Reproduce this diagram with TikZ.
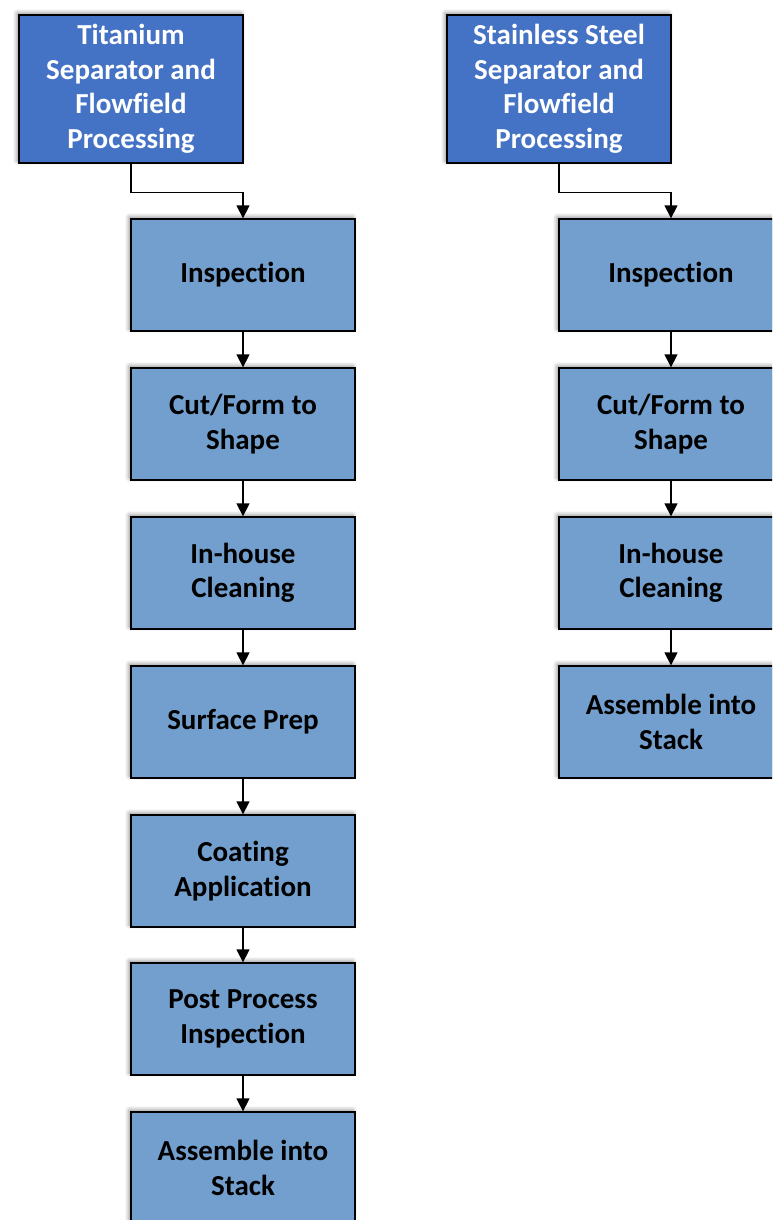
\documentclass[tikz,border=0pt]{standalone}
\usepackage{fontspec}
\setmainfont{Carlito}[Ligatures={NoCommon,NoRare,NoContextual}]
\usetikzlibrary{arrows.meta,shadows.blur}
\definecolor{topblue}{HTML}{4472C4}
\definecolor{stepblue}{HTML}{729FCE}
\tikzset{
  basebox/.style={rectangle, draw=black, line width=1.3pt, minimum width=224pt, align=center,
    font=\bfseries\fontsize{29}{34.5}\selectfont, inner sep=0pt,
    blur shadow={shadow xshift=-2pt, shadow yshift=2pt, shadow blur radius=4pt, shadow opacity=45}},
  headbox/.style={basebox, fill=topblue, text=white, minimum height=148pt},
  stepbox/.style={basebox, fill=stepblue, text=black, minimum height=112pt},
  conn/.style={line width=1.3pt, -{Triangle[length=13pt,width=13pt]}}
}
\begin{document}
\begin{tikzpicture}[x=1pt,y=-1pt]
\useasboundingbox (0,0) rectangle (772,1220);
\clip (0,0) rectangle (772,1220);
% left column
\node[headbox] (t0) at (131,89) {Titanium\\Separator and\\Flowfield\\Processing};
\node[stepbox] (t1) at (243,275) {Inspection};
\node[stepbox] (t2) at (243,424) {Cut/Form to\\Shape};
\node[stepbox] (t3) at (243,573) {In-house\\Cleaning};
\node[stepbox] (t4) at (243,722) {Surface Prep};
\node[stepbox] (t5) at (243,871) {Coating\\Application};
\node[stepbox] (t6) at (243,1019) {Post Process\\Inspection};
\node[stepbox] (t7) at (243,1168) {Assemble into\\Stack};
% right column
\node[headbox] (s0) at (559,89) {Stainless Steel\\Separator and\\Flowfield\\Processing};
\node[stepbox] (s1) at (671,275) {Inspection};
\node[stepbox] (s2) at (671,424) {Cut/Form to\\Shape};
\node[stepbox] (s3) at (671,573) {In-house\\Cleaning};
\node[stepbox] (s4) at (671,722) {Assemble into\\Stack};
% connectors
\draw[conn] (t0.south) -- ++(0,29) -| (t1.north);
\draw[conn] (s0.south) -- ++(0,29) -| (s1.north);
\foreach \a/\b in {t1/t2,t2/t3,t3/t4,t4/t5,t5/t6,t6/t7,s1/s2,s2/s3,s3/s4}
  \draw[conn] (\a.south) -- (\b.north);
\end{tikzpicture}
\end{document}
